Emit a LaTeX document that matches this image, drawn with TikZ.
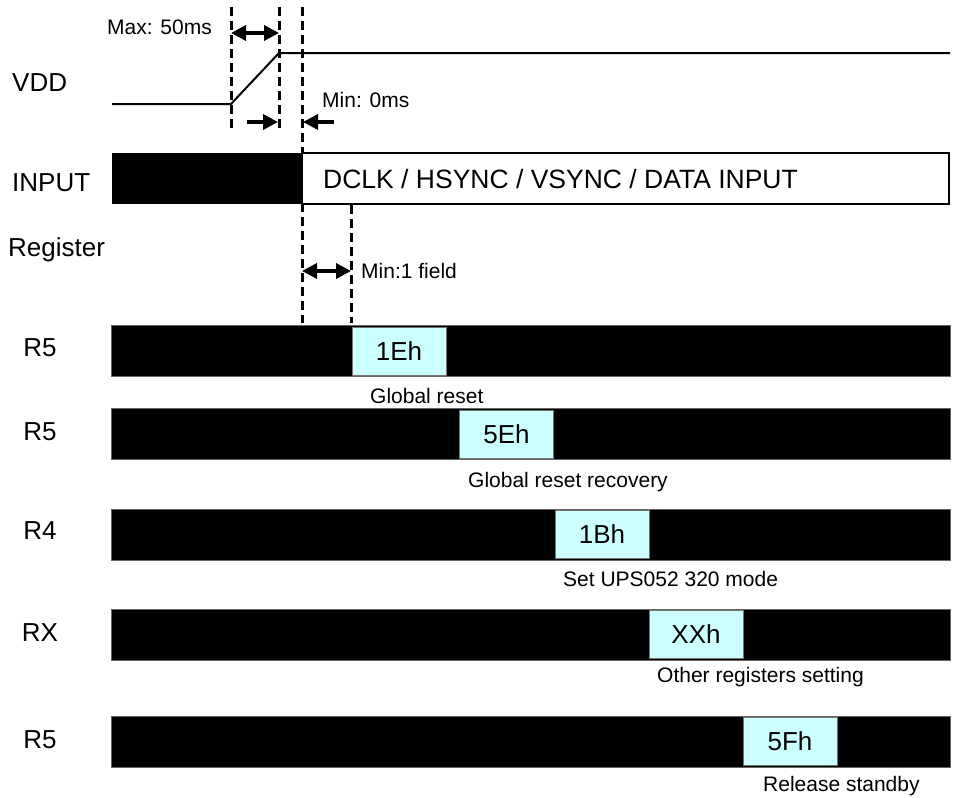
\documentclass[tikz,border=0pt]{standalone}
\usepackage{fontspec}
\setmainfont{Liberation Sans}
\usetikzlibrary{arrows.meta}
\definecolor{cyanlight}{RGB}{204,255,255}
\begin{document}
\begin{tikzpicture}[x=1pt,y=-1pt,
  big/.style={font=\fontsize{26}{30}\selectfont, inner sep=0pt},
  small/.style={font=\fontsize{21}{25}\selectfont, inner sep=0pt},
  bar/.style={draw=black!60, line width=0.8pt, fill=black, minimum width=839pt, minimum height=51pt, inner sep=0pt},
  regbox/.style={draw=black!55, line width=0.8pt, fill=cyanlight, minimum width=94pt, minimum height=48pt, inner sep=0pt, font=\fontsize{26}{30}\selectfont},
  guide/.style={line width=3pt, dash pattern=on 9pt off 5pt},
  tip/.tip={Triangle[length=15pt,width=15pt]},
  dim/.style={line width=3.5pt, -tip},
  dimb/.style={line width=3.5pt, tip-tip},
  sig/.style={line width=2pt}
]
\useasboundingbox (0,0) rectangle (956,798);

% guide coordinates
\coordinate (g1t) at (231,7);   \coordinate (g1b) at (231,130);
\coordinate (g2t) at (279,7);   \coordinate (g2b) at (279,130);
\coordinate (g3t) at (302,7);   \coordinate (g3b) at (302,323);
\coordinate (g4t) at (351,205); \coordinate (g4b) at (351,323);

\draw[guide] (g1t) -- (g1b);
\draw[guide] (g2t) -- (g2b);
\draw[guide] (g3t) -- (g3b);
\draw[guide] (g4t) -- (g4b);

% dimension arrows
\coordinate (m1) at (231,33);  \coordinate (m2) at (279,33);
\draw[dimb] (m1) -- (m2);
\coordinate (r1) at (247,122); \coordinate (r2) at (278,122);
\draw[dim] (r1) -- (r2);
\coordinate (l1) at (334,122); \coordinate (l2) at (303,122);
\draw[dim] (l1) -- (l2);
\coordinate (f1) at (302,271); \coordinate (f2) at (351,271);
\draw[dimb] (f1) -- (f2);

\node[small, anchor=west] (tmax) at (107,27) {Max: 50ms};
\node[small, anchor=west] (tmin) at (322,100) {Min: 0ms};
\node[small, anchor=west] (tfield) at (361,271) {Min:1 field};

% VDD
\coordinate (v0) at (112,104); \coordinate (v1) at (231,104);
\coordinate (v2) at (279,53);  \coordinate (v3) at (950,53);
\draw[sig] (v0) -- (v1) -- (v2) -- (v3);

% INPUT
\fill (112,153) rectangle (302,204);
\draw[line width=2pt, fill=white] (302,153) rectangle (949,204);
\node[anchor=west, inner sep=0pt, font=\fontsize{26.5}{30}\selectfont] (din) at (323,179) {DCLK / HSYNC / VSYNC / DATA INPUT};

% left labels
\node[big, anchor=west] (lvdd) at (12,83) {VDD};
\node[big, anchor=west] (lin) at (12,183) {INPUT};
\node[big, anchor=west] (lreg) at (8,250) {Register};
\node[big] (lr1) at (40,348) {R5};
\node[big] (lr2) at (40,432) {R5};
\node[big] (lr3) at (40,531) {R4};
\node[big] (lr4) at (40,633) {RX};
\node[big] (lr5) at (40,740) {R5};

% register bars
\node[bar] (b1) at (530.5,350.5) {};
\node[bar] (b2) at (530.5,434) {};
\node[bar] (b3) at (530.5,534.5) {};
\node[bar] (b4) at (530.5,634.5) {};
\node[bar] (b5) at (530.5,741.5) {};

\node[regbox] (x1) at (399,351) {1Eh\hspace{6pt}};
\node[regbox] (x2) at (506.5,434) {5Eh\hspace{6pt}};
\node[regbox] (x3) at (602,534.5) {1Bh\hspace{6pt}};
\node[regbox] (x4) at (696,634.5) {XXh\hspace{6pt}};
\node[regbox] (x5) at (790,741.5) {5Fh\hspace{6pt}};

\node[small, anchor=west] (d1) at (370,396) {Global reset};
\node[small, anchor=west] (d2) at (468,482) {Global reset recovery};
\node[small, anchor=west] (d3) at (563,579) {Set UPS052 320 mode};
\node[small, anchor=west] (d4) at (657,677) {Other registers setting};
\node[small, anchor=west] (d5) at (763,786) {Release standby};
\end{tikzpicture}
\end{document}
